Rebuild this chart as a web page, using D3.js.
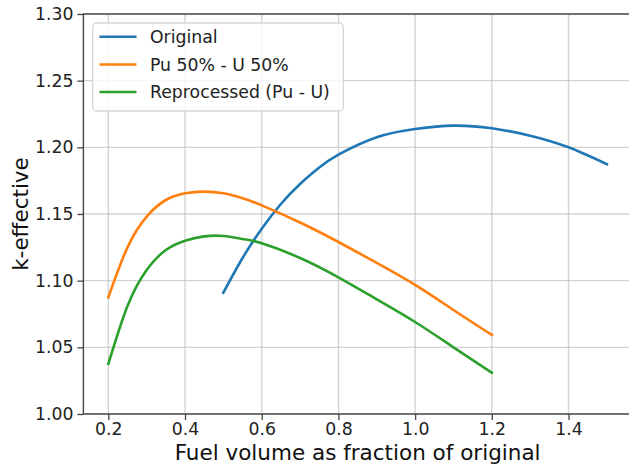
<!DOCTYPE html>
<html>
<head>
<meta charset="utf-8">
<script src="https://cdn.jsdelivr.net/npm/d3@7"></script>
<style>
  html, body { margin: 0; padding: 0; background: #ffffff; }
  svg { display: block; font-family: "DejaVu Sans", sans-serif; }
</style>
</head>
<body>
<div id="chart"></div>
<script>
// ---- data ----
const seriesNames = ["Original", "Pu 50% - U 50%", "Reprocessed (Pu - U)"];
const seriesColors = ["#1f77b4", "#ff7f0e", "#2ca02c"];

const originalX = [0.50, 0.55, 0.60, 0.65, 0.70, 0.75, 0.80, 0.90, 1.00, 1.10, 1.20, 1.30, 1.40, 1.50];
const originalY = [1.091, 1.117, 1.139, 1.1575, 1.1725, 1.1848, 1.1945, 1.2076, 1.2138, 1.2163, 1.2143, 1.2087, 1.2000, 1.1873];

const puuX = [0.20, 0.25, 0.30, 0.35, 0.40, 0.45, 0.50, 0.55, 0.60, 0.70, 0.80, 0.90, 1.00, 1.10, 1.20];
const puuY = [1.0875, 1.125, 1.148, 1.1605, 1.1655, 1.1668, 1.1655, 1.1618, 1.1565, 1.1436, 1.129, 1.1133, 1.0968, 1.078, 1.0593];

const reprocX = [0.20, 0.25, 0.30, 0.35, 0.40, 0.45, 0.50, 0.55, 0.60, 0.70, 0.80, 0.90, 1.00, 1.10, 1.20];
const reprocY = [1.0375, 1.081, 1.108, 1.123, 1.130, 1.1332, 1.1335, 1.1313, 1.128, 1.117, 1.1025, 1.086, 1.069, 1.050, 1.031];

const xTicks = [0.2, 0.4, 0.6, 0.8, 1.0, 1.2, 1.4];
const yTicks = [1.00, 1.05, 1.10, 1.15, 1.20, 1.25, 1.30];
const xLabel = "Fuel volume as fraction of original";
const yLabel = "k-effective";

// ---- layout ----
const W = 629, H = 470;
const plot = { left: 83.4, top: 14, right: 631.8, bottom: 414 };

const svg = d3.select("#chart").append("svg")
  .attr("width", W).attr("height", H);
svg.append("rect").attr("width", W).attr("height", H).attr("fill", "#fff");

const x = d3.scaleLinear().domain([0.135, 1.565]).range([plot.left, plot.right]);
const y = d3.scaleLinear().domain([1.0, 1.3]).range([plot.bottom, plot.top]);

// grid
const grid = svg.append("g");
grid.selectAll("line.gx").data(xTicks).enter().append("line")
  .attr("x1", d => x(d)).attr("x2", d => x(d))
  .attr("y1", plot.top).attr("y2", plot.bottom)
  .attr("stroke", "#b0b0b0").attr("stroke-opacity", 0.55).attr("stroke-width", 1.4);
grid.selectAll("line.gy").data(yTicks).enter().append("line")
  .attr("y1", d => y(d)).attr("y2", d => y(d))
  .attr("x1", plot.left).attr("x2", plot.right)
  .attr("stroke", "#b0b0b0").attr("stroke-opacity", 0.55).attr("stroke-width", 1.4);

// axes
const xAxis = d3.axisBottom(x).tickValues(xTicks).tickFormat(d3.format(".1f"))
  .tickSize(6).tickPadding(3);
const yAxis = d3.axisLeft(y).tickValues(yTicks).tickFormat(d3.format(".2f"))
  .tickSize(6).tickPadding(4);

const gx = svg.append("g").attr("transform", `translate(0,${plot.bottom})`).call(xAxis);
const gy = svg.append("g").attr("transform", `translate(${plot.left},0)`).call(yAxis);
[gx, gy].forEach(g => {
  g.select(".domain").remove();
  g.selectAll(".tick line").attr("stroke", "#444").attr("stroke-width", 1.3);
  g.selectAll(".tick text").attr("fill", "#222").style("font-size", "17.3px")
    .style("font-family", "'DejaVu Sans', sans-serif");
});

// curves
const line = d3.line().x(d => x(d[0])).y(d => y(d[1])).curve(d3.curveNatural);
const series = [
  d3.zip(originalX, originalY),
  d3.zip(puuX, puuY),
  d3.zip(reprocX, reprocY)
];
svg.append("g").selectAll("path").data(series).enter().append("path")
  .attr("d", line)
  .attr("fill", "none")
  .attr("stroke", (d, i) => seriesColors[i])
  .attr("stroke-width", 2.6)
  .attr("stroke-linecap", "square");

// spines
svg.append("rect")
  .attr("x", plot.left).attr("y", plot.top)
  .attr("width", plot.right - plot.left).attr("height", plot.bottom - plot.top)
  .attr("fill", "none").attr("stroke", "#444").attr("stroke-width", 1.4);

// axis labels
svg.append("text")
  .attr("x", (plot.left + plot.right) / 2).attr("y", 460)
  .attr("text-anchor", "middle").attr("fill", "#111")
  .style("font-size", "21.5px").text(xLabel);
svg.append("text")
  .attr("transform", `translate(28,${(plot.top + plot.bottom) / 2}) rotate(-90)`)
  .attr("text-anchor", "middle").attr("fill", "#111")
  .style("font-size", "21.5px").text(yLabel);

// legend
const leg = svg.append("g");
leg.append("rect")
  .attr("x", 92.7).attr("y", 23).attr("width", 250.6).attr("height", 88)
  .attr("rx", 4).attr("ry", 4)
  .attr("fill", "#fff").attr("fill-opacity", 0.8)
  .attr("stroke", "#d6d6d6").attr("stroke-width", 1.3);
const rowY = [36.7, 64.5, 92];
seriesNames.forEach((name, i) => {
  leg.append("line")
    .attr("x1", 99.5).attr("x2", 136.5)
    .attr("y1", rowY[i]).attr("y2", rowY[i])
    .attr("stroke", seriesColors[i]).attr("stroke-width", 2.6);
  leg.append("text")
    .attr("x", 150).attr("y", rowY[i] + 6.3)
    .attr("fill", "#222").style("font-size", "17.3px").text(name);
});
</script>
</body>
</html>
